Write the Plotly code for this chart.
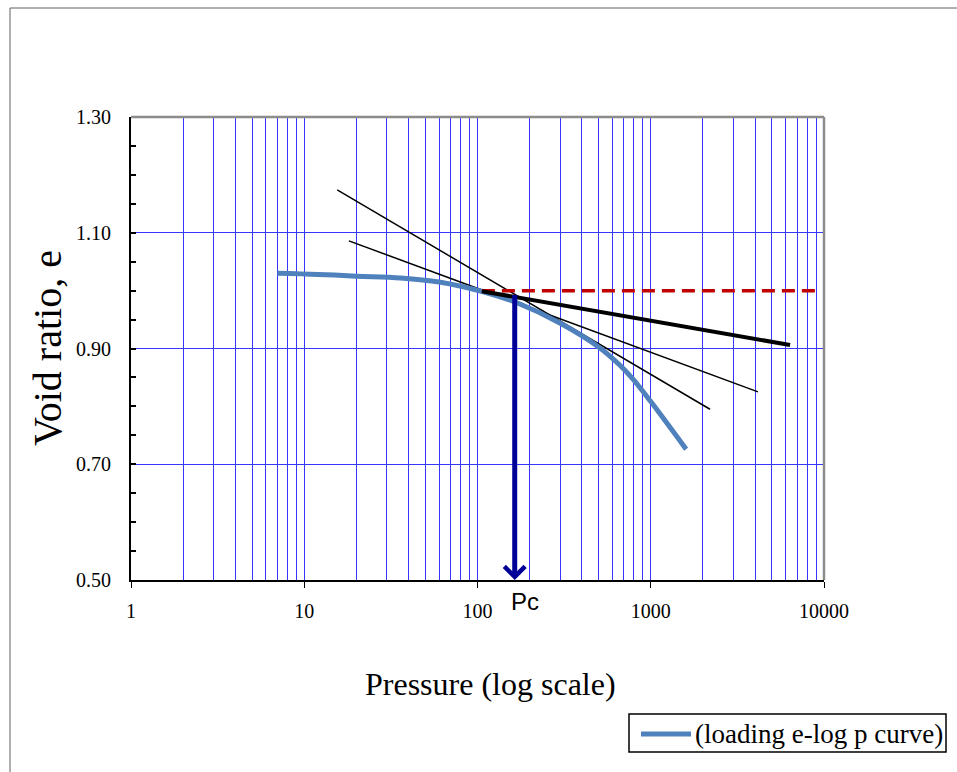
import math
import plotly.graph_objects as go

# ---------------- data ----------------
pressure = [7, 12, 20, 36, 60, 108, 169, 299, 509, 664, 790, 990, 1600]
void_ratio = [1.030, 1.028, 1.025, 1.022, 1.015, 0.998, 0.979, 0.944, 0.901, 0.871, 0.847, 0.810, 0.726]

horiz_p = [106, 9200]
horiz_e = [1.000, 1.000]

rebound_p = [106, 6370]
rebound_e = [0.999, 0.906]

tangent1_p = [15.5, 2198]
tangent1_e = [1.174, 0.795]

tangent2_p = [18.1, 4160]
tangent2_e = [1.086, 0.825]

pc_value = 164
pc_e = 0.995

x_tickvals = [1, 10, 100, 1000, 10000]
x_ticktext = ["1", "10", "100", "1000", "10000"]
y_tickvals = [0.50, 0.70, 0.90, 1.10, 1.30]

legend_label = "(loading e-log p curve)"

# ---------------- layout geometry ----------------
W, H = 957, 772
L, R, T, B = 131, 824, 117, 580
pw, ph = R - L, B - T


def px(xp):
    return (xp - L) / pw


def py(yp):
    return (B - yp) / ph


SERIF = "Liberation Serif"
grid_col = "#3636ff"
curve_col = "#4F81BD"

fig = go.Figure()

fig.add_trace(go.Scatter(x=tangent1_p, y=tangent1_e, mode="lines",
                         line=dict(color="black", width=1.5), showlegend=False))
fig.add_trace(go.Scatter(x=tangent2_p, y=tangent2_e, mode="lines",
                         line=dict(color="black", width=1.5), showlegend=False))
fig.add_trace(go.Scatter(x=pressure, y=void_ratio, mode="lines",
                         line=dict(color=curve_col, width=5, shape="spline", smoothing=1.0),
                         name=legend_label, showlegend=False))
fig.add_trace(go.Scatter(x=horiz_p, y=horiz_e, mode="lines",
                         line=dict(color="#C00000", width=3.5, dash="13px,7px"), showlegend=False))
fig.add_trace(go.Scatter(x=rebound_p, y=rebound_e, mode="lines",
                         line=dict(color="black", width=4), showlegend=False))

annotations = [
    # Pc arrow
    dict(x=math.log10(pc_value), y=0.5, ax=math.log10(pc_value), ay=pc_e,
         xref="x", yref="y", axref="x", ayref="y", text="", showarrow=True,
         arrowhead=4, arrowsize=0.8, arrowwidth=5, arrowcolor="#000099", standoff=0),
    # Pc label
    dict(x=math.log10(pc_value), y=py(601), xref="x", yref="paper", xshift=10,
         text="Pc", showarrow=False, xanchor="center", yanchor="middle",
         font=dict(family="Liberation Sans", size=24, color="black")),
    # axis titles
    dict(x=px(490), y=py(684), xref="paper", yref="paper", text="Pressure (log scale)",
         showarrow=False, xanchor="center", yanchor="middle",
         font=dict(family=SERIF, size=32, color="black")),
    dict(x=px(47), y=py(348), xref="paper", yref="paper", text="Void ratio, e",
         showarrow=False, xanchor="center", yanchor="middle", textangle=-90,
         font=dict(family=SERIF, size=40, color="black")),
    # legend text
    dict(x=px(693), y=py(734), xref="paper", yref="paper", text=legend_label,
         showarrow=False, xanchor="left", yanchor="middle",
         font=dict(family=SERIF, size=27, color="black")),
]

shapes = [
    # top and right plot border (grey)
    dict(type="line", xref="paper", yref="paper", x0=0, x1=1, y0=1, y1=1,
         line=dict(color="#8c8c8c", width=2.5), layer="above"),
    dict(type="line", xref="paper", yref="paper", x0=1, x1=1, y0=0, y1=1,
         line=dict(color="#8c8c8c", width=2.5), layer="above"),
    # outer chart frame
    dict(type="line", xref="paper", yref="paper", x0=px(10), x1=px(960), y0=py(8), y1=py(8),
         line=dict(color="#606060", width=1)),
    dict(type="line", xref="paper", yref="paper", x0=px(10), x1=px(10), y0=py(8), y1=py(775),
         line=dict(color="#606060", width=1)),
    # legend box and sample line
    dict(type="rect", xref="paper", yref="paper", x0=px(629), x1=px(946), y0=py(714), y1=py(752),
         line=dict(color="black", width=1.5), fillcolor="white"),
    dict(type="line", xref="paper", yref="paper", x0=px(641), x1=px(691), y0=py(734), y1=py(734),
         line=dict(color=curve_col, width=5)),
]

fig.update_layout(
    width=W, height=H,
    margin=dict(l=L, r=W - R, t=T, b=H - B, autoexpand=False),
    paper_bgcolor="white", plot_bgcolor="white",
    font=dict(family=SERIF, color="black"),
    annotations=annotations,
    shapes=shapes,
    showlegend=False,
)

fig.update_xaxes(
    type="log", range=[0, 4], tickvals=x_tickvals, ticktext=x_ticktext,
    showgrid=True, gridcolor=grid_col, gridwidth=1,
    showline=True, linecolor="black", linewidth=1.5,
    ticks="outside", ticklen=6, tickcolor="black", tickwidth=1,
    tickfont=dict(family=SERIF, size=20, color="black"),
    ticklabelstandoff=6,
    minor=dict(dtick="D1", showgrid=True, gridcolor=grid_col, gridwidth=1, ticks=""),
    zeroline=False, automargin=False,
)

fig.update_yaxes(
    range=[0.5, 1.3], tickvals=y_tickvals, tickformat=".2f",
    showgrid=True, gridcolor=grid_col, gridwidth=1,
    showline=True, linecolor="black", linewidth=2,
    ticks="inside", ticklen=5, tickcolor="black", tickwidth=1.5,
    tickfont=dict(family=SERIF, size=20, color="black"),
    ticklabelstandoff=14,
    minor=dict(dtick=0.05, tick0=0.5, ticks="inside", ticklen=5, tickcolor="black",
               tickwidth=1.5, showgrid=False),
    zeroline=False, automargin=False,
)

fig.write_html("out.html")
